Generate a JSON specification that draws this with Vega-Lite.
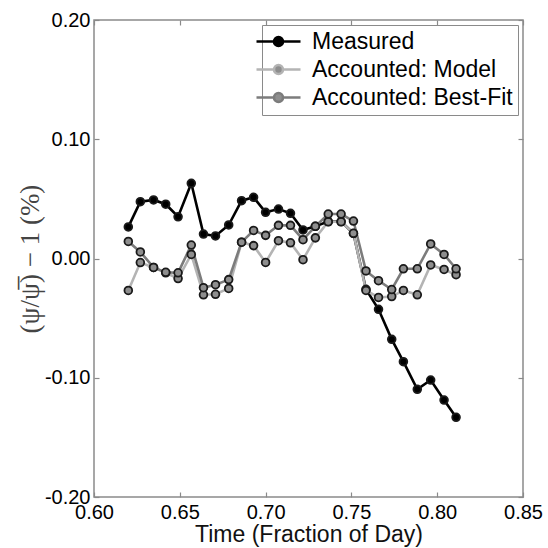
{
  "$schema": "https://vega.github.io/schema/vega-lite/v6.json",
  "width": 429,
  "height": 477,
  "autosize": "none",
  "padding": {"left": 94, "top": 20, "right": 25, "bottom": 51},
  "background": "white",
  "config": {
    "view": {"stroke": "#8a8a8a", "strokeWidth": 1.5},
    "axis": {"grid": false, "domain": false, "tickColor": "#8a8a8a", "tickWidth": 1.2, "labelFlush": false, "labelOverlap": false, "labelFont": "Liberation Sans", "labelFontSize": 20, "labelColor": "#000", "titleFont": "Liberation Sans", "titleFontSize": 23, "titleColor": "#111", "titleFontWeight": "normal"}
  },
  "data": {"values": [
    {"t":0.620,"s":"Measured","v":0.0265},{"t":0.627,"s":"Measured","v":0.0476},{"t":0.6347,"s":"Measured","v":0.0491},{"t":0.6418,"s":"Measured","v":0.0455},{"t":0.649,"s":"Measured","v":0.035},{"t":0.6567,"s":"Measured","v":0.0631},{"t":0.6638,"s":"Measured","v":0.0205},{"t":0.6708,"s":"Measured","v":0.0189},{"t":0.6785,"s":"Measured","v":0.0281},{"t":0.686,"s":"Measured","v":0.0485},{"t":0.693,"s":"Measured","v":0.0513},{"t":0.700,"s":"Measured","v":0.0387},{"t":0.7075,"s":"Measured","v":0.0415},{"t":0.7145,"s":"Measured","v":0.0379},{"t":0.7218,"s":"Measured","v":0.0239},{"t":0.729,"s":"Measured","v":0.027},{"t":0.7365,"s":"Measured","v":0.031},{"t":0.744,"s":"Measured","v":0.031},{"t":0.7512,"s":"Measured","v":0.021},{"t":0.7585,"s":"Measured","v":-0.0258},{"t":0.7658,"s":"Measured","v":-0.0426},{"t":0.7735,"s":"Measured","v":-0.0678},{"t":0.7803,"s":"Measured","v":-0.0865},{"t":0.7884,"s":"Measured","v":-0.1097},{"t":0.7962,"s":"Measured","v":-0.1019},{"t":0.804,"s":"Measured","v":-0.1187},{"t":0.811,"s":"Measured","v":-0.1332},
    {"t":0.620,"s":"Accounted: Model","v":-0.0268},{"t":0.627,"s":"Accounted: Model","v":-0.0034},{"t":0.6347,"s":"Accounted: Model","v":-0.0075},{"t":0.6418,"s":"Accounted: Model","v":-0.012},{"t":0.649,"s":"Accounted: Model","v":-0.0168},{"t":0.6567,"s":"Accounted: Model","v":0.0034},{"t":0.6638,"s":"Accounted: Model","v":-0.0304},{"t":0.6708,"s":"Accounted: Model","v":-0.030},{"t":0.6785,"s":"Accounted: Model","v":-0.0251},{"t":0.686,"s":"Accounted: Model","v":0.0137},{"t":0.693,"s":"Accounted: Model","v":0.0108},{"t":0.700,"s":"Accounted: Model","v":-0.0033},{"t":0.7075,"s":"Accounted: Model","v":0.0149},{"t":0.7145,"s":"Accounted: Model","v":0.0132},{"t":0.7218,"s":"Accounted: Model","v":-0.001},{"t":0.729,"s":"Accounted: Model","v":0.0173},{"t":0.7365,"s":"Accounted: Model","v":0.0308},{"t":0.744,"s":"Accounted: Model","v":0.0308},{"t":0.7512,"s":"Accounted: Model","v":0.0211},{"t":0.7585,"s":"Accounted: Model","v":-0.0268},{"t":0.7658,"s":"Accounted: Model","v":-0.0327},{"t":0.7735,"s":"Accounted: Model","v":-0.0319},{"t":0.7803,"s":"Accounted: Model","v":-0.0268},{"t":0.7884,"s":"Accounted: Model","v":-0.0304},{"t":0.7962,"s":"Accounted: Model","v":-0.0054},{"t":0.804,"s":"Accounted: Model","v":-0.0092},{"t":0.811,"s":"Accounted: Model","v":-0.0136},
    {"t":0.620,"s":"Accounted: Best-Fit","v":0.0143},{"t":0.627,"s":"Accounted: Best-Fit","v":0.0055},{"t":0.6347,"s":"Accounted: Best-Fit","v":-0.0075},{"t":0.6418,"s":"Accounted: Best-Fit","v":-0.0116},{"t":0.649,"s":"Accounted: Best-Fit","v":-0.012},{"t":0.6567,"s":"Accounted: Best-Fit","v":0.0113},{"t":0.6638,"s":"Accounted: Best-Fit","v":-0.0245},{"t":0.6708,"s":"Accounted: Best-Fit","v":-0.022},{"t":0.6785,"s":"Accounted: Best-Fit","v":-0.0177},{"t":0.686,"s":"Accounted: Best-Fit","v":0.0137},{"t":0.693,"s":"Accounted: Best-Fit","v":0.0235},{"t":0.700,"s":"Accounted: Best-Fit","v":0.0194},{"t":0.7075,"s":"Accounted: Best-Fit","v":0.0278},{"t":0.7145,"s":"Accounted: Best-Fit","v":0.0278},{"t":0.7218,"s":"Accounted: Best-Fit","v":0.0158},{"t":0.729,"s":"Accounted: Best-Fit","v":0.027},{"t":0.7365,"s":"Accounted: Best-Fit","v":0.0373},{"t":0.744,"s":"Accounted: Best-Fit","v":0.0373},{"t":0.7512,"s":"Accounted: Best-Fit","v":0.0314},{"t":0.7585,"s":"Accounted: Best-Fit","v":-0.0104},{"t":0.7658,"s":"Accounted: Best-Fit","v":-0.0186},{"t":0.7735,"s":"Accounted: Best-Fit","v":-0.026},{"t":0.7803,"s":"Accounted: Best-Fit","v":-0.0086},{"t":0.7884,"s":"Accounted: Best-Fit","v":-0.0086},{"t":0.7962,"s":"Accounted: Best-Fit","v":0.0122},{"t":0.804,"s":"Accounted: Best-Fit","v":0.0034},{"t":0.811,"s":"Accounted: Best-Fit","v":-0.0086}
  ]},
  "layer": [
    {
      "mark": {"type": "line"},
      "encoding": {
        "x": {"field": "t", "type": "quantitative", "scale": {"domain": [0.6, 0.85], "nice": false, "zero": false}, "axis": {"orient": "bottom", "values": [0.6, 0.65, 0.7, 0.75, 0.8, 0.85], "format": ".2f", "tickSize": -5, "labelPadding": 10, "title": "Time (Fraction of Day)", "titlePadding": 1}},
        "y": {"field": "v", "type": "quantitative", "scale": {"domain": [-0.2, 0.2], "nice": false, "zero": false}, "axis": {"orient": "left", "values": [-0.2, -0.1, 0, 0.1, 0.2], "format": ".2f", "labelExpr": "replace(datum.label, '\u2212', '-')", "tickSize": -5, "labelPadding": 9, "title": "(ψ/ψ\u0305) \u2212 1 (%)", "titleFont": "Liberation Serif", "titleFontSize": 27, "titleColor": "#444", "titlePadding": 0}},
        "stroke": {"field": "s", "type": "nominal", "scale": {"domain": ["Measured", "Accounted: Model", "Accounted: Best-Fit"], "range": ["#000000", "#b4b4b4", "#7c7c7c"]},
          "legend": {"orient": "top-right", "offset": 5, "title": null, "symbolType": "M-4.4,0H-0.9M0.9,0H4.4M-0.9,0A0.9,0.9,0,1,1,0.9,0A0.9,0.9,0,1,1,-0.9,0Z", "symbolSize": 100, "symbolStrokeWidth": 2, "labelFont": "Liberation Sans", "labelFontSize": 23, "labelColor": "#000", "labelOffset": 22, "strokeColor": "#8a8a8a", "fillColor": "white", "padding": 5, "rowPadding": 4, "labelLimit": 400,
            "encode": {"symbols": {"update": {"fill": {"scale": "fill", "field": "value"}, "fillOpacity": {"value": 1}, "opacity": {"value": 1}}}}}},
        "strokeWidth": {"field": "s", "type": "nominal", "scale": {"domain": ["Measured", "Accounted: Model", "Accounted: Best-Fit"], "range": [2.6, 2.6, 1.6]}, "legend": null}
      }
    },
    {
      "mark": {"type": "point", "filled": true, "stroke": "#1a1a1a", "strokeWidth": 1.8, "size": 60, "opacity": 1},
      "encoding": {
        "x": {"field": "t", "type": "quantitative", "axis": {"orient": "top", "values": [0.6, 0.65, 0.7, 0.75, 0.8, 0.85], "labels": false, "tickSize": -5, "title": null}},
        "y": {"field": "v", "type": "quantitative", "axis": {"orient": "right", "values": [-0.2, -0.1, 0, 0.1, 0.2], "labels": false, "tickSize": -5, "title": null}},
        "fill": {"field": "s", "type": "nominal", "scale": {"domain": ["Measured", "Accounted: Model", "Accounted: Best-Fit"], "range": ["#000000", "#8e8e8e", "#8e8e8e"]}, "legend": null}
      }
    }
  ],
  "resolve": {"axis": {"x": "independent", "y": "independent"}}
}
